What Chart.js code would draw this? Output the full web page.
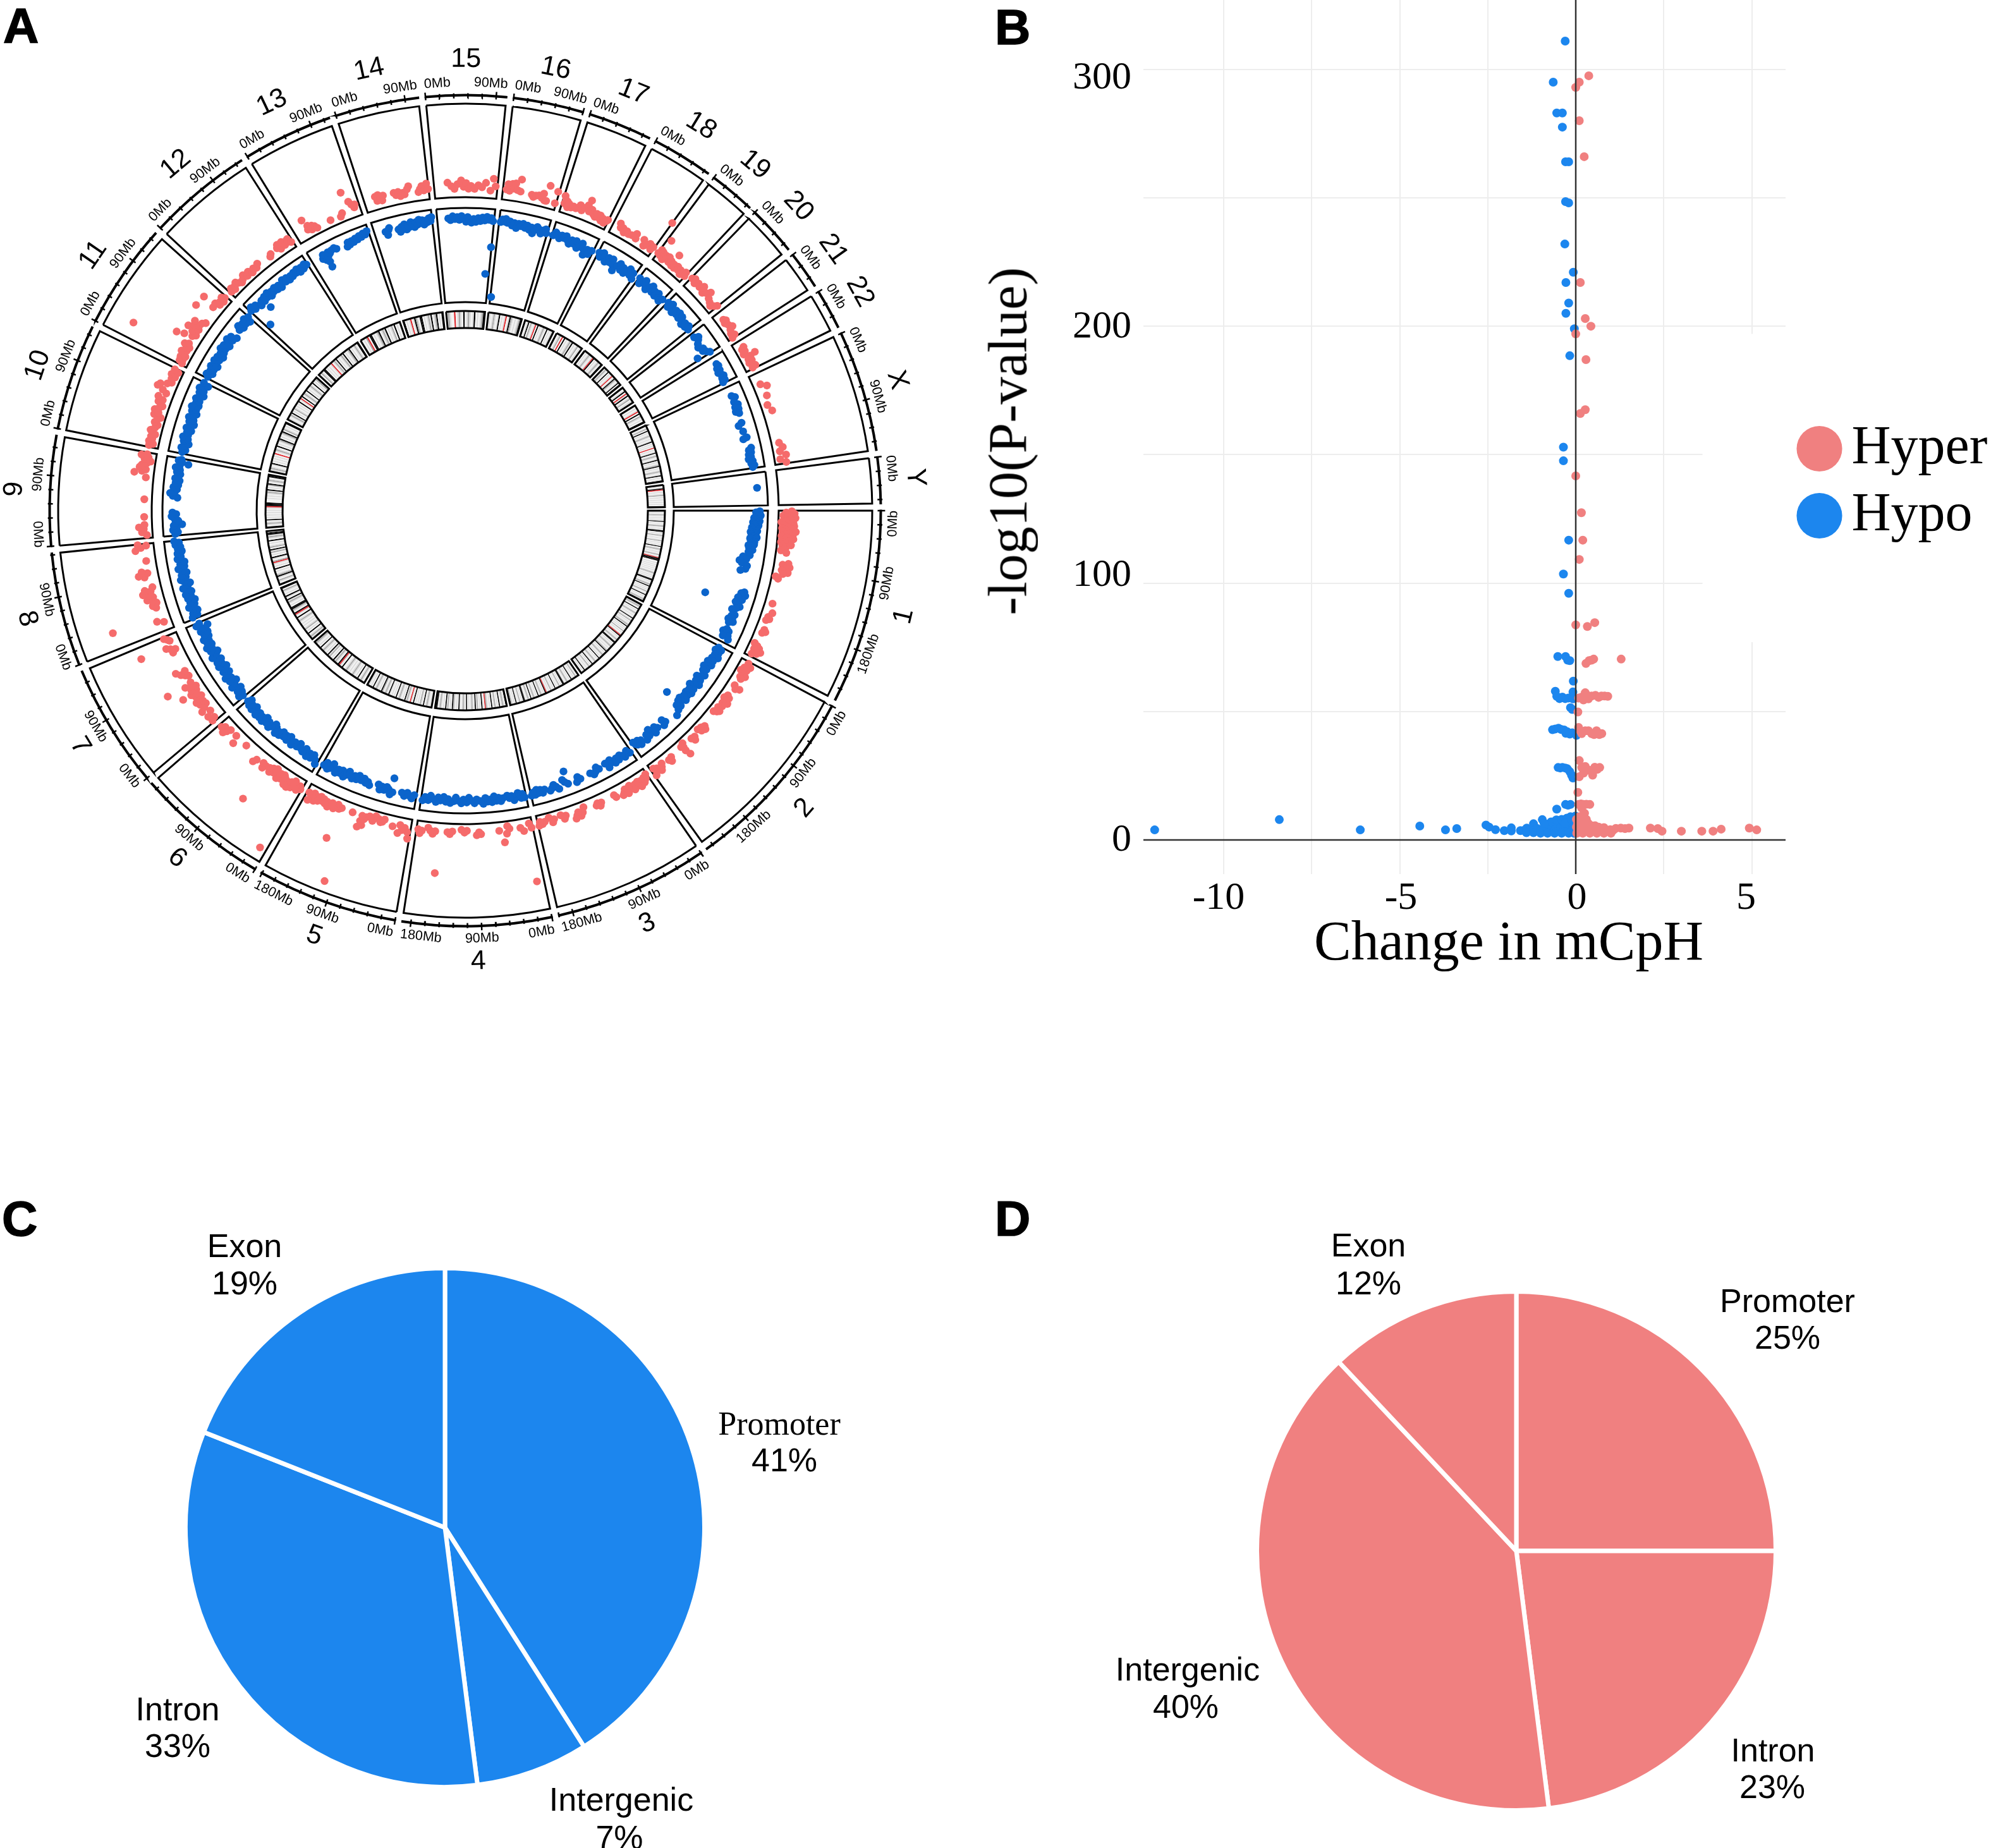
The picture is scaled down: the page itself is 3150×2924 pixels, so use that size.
<!DOCTYPE html>
<html>
<head>
<meta charset="utf-8">
<script src="https://cdn.jsdelivr.net/npm/chart.js@4"></script>
<style>
  html, body { margin: 0; padding: 0; background: #fff; }
  #page { position: relative; width: 3150px; height: 2924px; overflow: hidden; background: #fff; }
  canvas { position: absolute; }
  .txt { position: absolute; white-space: nowrap; color: #000; transform: translate(-50%, -50%); line-height: 1; text-align: center; }
  .letter { position: absolute; font: bold 78px "Liberation Sans"; line-height: 1; color: #000; -webkit-text-stroke: 1.5px #000; }
</style>
</head>
<body>
<div id="page">
  <canvas id="bandsChart" width="1480" height="1480" style="left:-4px;top:68px"></canvas>
  <canvas id="sectorChart" width="1480" height="1480" style="left:-4px;top:68px"></canvas>
  <canvas id="dotChart" width="1480" height="1480" style="left:-4px;top:68px"></canvas>
  <canvas id="volcanoChart" width="1590" height="1560" style="left:1560px;top:0"></canvas>
  <canvas id="pieC" width="830" height="830" style="left:289px;top:2002px"></canvas>
  <canvas id="pieD" width="830" height="830" style="left:1984px;top:2039px"></canvas>
</div>
<script>
// chromosomes, Mb
const chromNames = ['1','2','3','4','5','6','7','8','9','10','11','12','13','14','15','16','17','18','19','20','21','22','X','Y'];
const chromLengths = [249,243,198,191,181,171,159,146,141,136,135,134,115,107,103,90,81,78,59,63,48,51,155,59];
const gapMb = 9.2;
const tickStepMb = 18;
const labelStepMb = 90;

// hyper / hypo dots per chromosome: position Mb, track value 0-100 (flat pairs)
const hyperByChrom = [
  [1,17,3,11,5,20,6,13,8,8,9,17,11,12,12,21,14,9,15,16,17,11,19,6,20,19,22,13,24,9,25,20,27,14,29,7,30,18,32,11,34,22,35,8,37,15,39,11,41,19,42,7,44,13,46,20,48,10,50,15,52,7,54,12,56,18,58,9,60,13,63,11,66,8,69,14,86,18,89,12,92,20,95,15,98,12,101,19,104,14,110,7,113,10,155,11,170,14,178,11,181,13,184,10,200,12,203,14,206,11,226,8,229,12,232,15,235,10,237,18,239,12,241,15,244,10],
  [3,12,8,16,12,10,15,14,18,8,22,12,25,16,28,11,31,13,45,11,47,18,50,14,65,11,68,14,71,9,74,12,77,16,80,11,85,13,90,10,94,14,97,12,100,9,128,12,131,15,134,10,137,13,140,9,152,12,155,15,158,11,174,8,177,12,178,16,180,10,176,22,203,11,206,15,209,12,222,10,225,13,228,16,233,11,236,14,238,9,240,17],
  [2,9,5,13,8,11,10,16,13,12,15,14,17,18,20,11,23,15,26,12,29,17,32,14,35,10,38,13,41,17,44,11,47,14,50,16,62,14,64,11,88,12,91,15,94,11,97,13,118,9,122,14,126,17,129,12,132,15,135,18,150,11,153,14,158,9,170,11,173,14,178,8,186,11,190,13,194,10,196,14],
  [2,14,5,9,10,72,15,16,20,12,38,11,41,8,43,16,48,25,55,12,85,14,88,12,92,15,108,10,112,12,117,9,132,11,136,14,140,12,155,57,160,12,164,15,168,12,172,9,182,13,185,16,188,12],
  [3,24,5,17,10,13,14,16,18,11,20,20,30,14,45,9,48,12,51,13,55,10,60,8,64,14,70,10,75,12,78,15,82,12,79,22,85,25,83,18,99,12,122,48,102,92,118,12,122,14,125,10,128,13,131,16,135,11,138,13,141,17,144,12,147,15,150,11,153,14,156,10,159,16,162,12,165,18,168,10,171,14,174,20,177,12],
  [2,14,5,11,8,17,12,13,15,9,18,18,20,12,24,20,27,14,30,19,33,12,36,10,39,16,42,11,45,18,48,13,51,9,54,15,57,11,60,17,63,13,67,57,70,14,73,18,76,13,88,15,91,19,116,11,134,19,139,11,9,90,152,11,155,15,158,19,162,13,166,16],
  [3,19,6,15,12,20,18,14,24,22,28,17,32,13,35,19,38,14,41,21,44,16,47,12,50,18,53,15,56,21,59,13,62,18,65,11,68,16,71,22,74,14,74,43,57,31,142,49,85,12,88,15,92,19,95,13,98,23,130,15,134,11,137,16,140,20,150,13,153,15,156,18],
  [14,11,18,18,24,67,40,14,44,17,48,12,52,16,55,21,58,14,62,19,65,24,68,15,71,21,74,12,92,18,95,24,98,14,101,20,118,13,136,23,140,17,143,11,145,20],
  [5,9,10,14,15,12,18,17,22,11,35,11,64,11,100,11,107,24,110,16,113,12,116,19,120,17,123,12,127,8,130,15,133,11,136,19,138,13],
  [3,13,6,9,10,14,14,11,18,13,22,9,28,15,33,11,38,9,42,13,47,11,51,8,54,16,58,12,62,17,66,13,70,10,76,16,80,12,84,18,92,11,96,16,100,23,104,21,108,14,112,10,118,12,122,9,125,14,128,11,131,8,134,13],
  [3,9,6,13,9,10,12,14,15,9,18,12,22,76,21,16,25,11,28,13,31,10,34,17,37,13,43,31,47,23,50,14,54,11,57,17,61,24,64,12,67,19,70,14,73,21,76,13,80,10,94,30,112,29,108,14,115,15,118,10,122,12,126,9,129,14,132,11],
  [3,10,6,13,10,9,14,12,18,14,22,11,26,9,31,11,35,14,40,10,45,13,50,9,55,12,60,10,65,13,89,10,92,12,106,13,109,16,111,10,114,13,117,16,120,11,123,14,126,12,128,15,131,10],
  [20,24,22,12,24,16,28,10,30,14,34,12,37,9,62,10,80,9,84,12,94,33,100,21,103,17,106,13,108,16],
  [19,17,21,12,24,18,27,14,29,11,32,16,50,16,53,13,57,16,60,11,64,14,67,12,72,17,75,20,90,12,93,15,96,18,99,13,102,16,104,20,106,14],
  [22,19,28,15,33,12,38,17,44,21,48,14,52,18,56,12,60,15,66,12,72,16,78,14,84,19,92,11,96,24,100,16],
  [6,14,8,20,11,13,15,21,18,16,20,22,24,15,28,27,29,14,48,13,51,11,55,13,60,14,65,12,67,17,70,10,73,10,74,27,88,23,88,10],
  [2,21,4,13,5,17,8,16,10,10,12,14,16,11,20,13,24,12,28,14,30,17,34,12,38,16,42,20,44,26,46,14,50,17,54,13,58,11,60,15,63,12,66,15,69,10,72,13,75,9,78,12,80,14],
  [11,17,14,13,18,14,22,10,26,13,30,11,36,12,42,16,44,11,57,15,61,9,66,12,69,15,72,13,74,10,76,14,78,47],
  [1,12,3,17,5,11,7,16,10,13,12,9,14,15,17,12,20,16,23,11,26,14,30,24,6,31,30,10,33,13,36,10,40,14,43,11,47,13,50,9,53,12,56,15,58,11],
  [2,15,6,17,10,13,15,16,20,14,25,18,30,12,35,15,39,19,44,13,50,11,55,9,59,12,62,15],
  [14,11,17,13,20,10,25,12,31,15,34,11,40,9,44,12,47,8],
  [12,13,15,10,19,12,23,9,28,21,30,15,34,11,37,14,40,10,44,12,47,15,49,11],
  [19,11,25,17,40,13,55,10,66,13,120,11,128,14,134,10,141,16,147,9,153,15],
  []
];
const hypoByChrom = [
  [1,94,3,90,5,94,7,91,9,95,11,92,13,88,15,93,17,90,19,94,21,87,23,92,25,89,27,93,29,90,31,86,33,91,35,88,37,92,39,85,41,90,43,86,45,91,47,88,49,92,51,85,53,89,55,86,57,90,59,87,62,90,64,84,66,88,68,85,72,89,76,85,82,87,86,80,90,84,94,77,98,80,102,86,108,85,112,80,150,90,153,87,156,92,159,89,162,85,165,90,173,50,168,88,171,84,174,86,178,90,182,87,186,83,195,88,198,85,202,87,205,83,208,89,211,85,224,86,227,89,229,83,232,87,235,90,238,85,241,92],
  [3,87,6,91,9,85,13,90,17,87,21,92,25,86,30,89,34,84,38,90,42,87,45,83,49,88,53,85,60,90,64,87,68,83,72,89,76,85,80,91,84,87,88,82,92,89,96,85,100,90,104,84,108,88,112,85,116,90,120,83,123,87,126,84,128,69,130,90,134,86,138,91,147,94,170,90,173,86,176,92,188,89,192,86,196,92,200,87,204,84,208,90,212,87,216,92,226,88,229,92,232,86,235,90,238,88,240,85],
  [3,92,7,88,11,91,14,93,18,90,22,88,26,92,30,89,34,93,38,90,42,87,45,91,48,94,52,88,66,90,70,87,74,91,78,93,84,90,104,91,108,88,112,93,128,77,128,91,133,88,136,85,146,93,150,90,154,87,158,90,162,92,172,89,176,92,180,88,184,91,187,87,190,92,194,89,197,92],
  [3,92,6,88,9,92,14,86,18,90,22,93,26,88,30,90,34,87,42,89,46,92,50,88,54,91,58,86,62,92,66,89,70,91,74,87,78,93,83,90,90,88,94,92,100,89,104,86,108,91,114,88,118,92,125,89,128,86,132,90,138,92,142,88,146,91,150,86,156,90,160,87,164,92,170,89,174,86,178,91,184,88,188,92],
  [4,88,8,92,12,90,17,87,22,91,27,88,44,90,47,75,48,93,52,88,56,86,60,90,65,87,68,91,72,86,88,90,92,87,96,89,100,85,105,88,110,84,114,89,118,86,122,90,125,88,130,84,134,89,138,92,142,86,146,90,150,87,154,92,158,88,162,84,166,90,170,92,174,86,178,90],
  [3,94,7,90,12,86,16,91,20,87,24,92,30,85,34,90,40,88,44,84,48,89,54,86,58,91,62,87,66,84,70,90,74,86,78,89,82,85,86,91,90,88,94,92,98,86,102,84,106,89,110,92,114,87,118,90,122,85,126,92,130,88,134,91,138,87,142,92,146,89,150,85,154,91,158,87,162,90,166,84,169,88],
  [3,88,6,92,10,86,14,90,18,84,22,89,26,92,30,87,34,83,38,90,42,86,46,92,50,88,54,84,58,90,62,87,66,83,70,91,74,86,78,90,82,84,86,88,90,92,94,86,98,83,102,90,106,87,110,92,114,85,118,89,122,86,126,91,130,84,134,88,138,83,142,90,146,86,150,80,154,92,157,88],
  [3,92,6,86,10,90,14,84,18,88,22,92,26,85,30,89,34,83,38,90,42,86,46,91,50,84,54,88,58,92,62,86,66,83,70,89,74,92,78,86,82,90,86,84,90,88,94,92,98,85,102,89,106,84,112,91,116,87,122,90,126,85,130,89,134,86,138,91,142,87,145,92],
  [3,90,6,87,10,92,14,88,18,91,20,82,23,89,27,86,31,90,35,93,39,88,42,92,69,87,72,92,77,95,80,90,84,88,88,92,92,87,96,90,100,86,104,91,108,88,112,86,116,90,120,87,124,92,128,88,132,79,134,86,137,90,139,87],
  [3,88,7,85,11,90,15,87,19,83,23,89,27,85,31,91,35,86,40,88,44,84,48,90,52,86,56,83,60,89,64,85,68,91,72,87,76,84,80,90,84,86,88,92,92,85,96,89,100,86,104,91,108,87,112,84,116,90,120,86,124,92,128,88,132,84,135,90],
  [3,89,7,92,11,86,15,90,19,87,23,92,27,85,31,89,35,92,39,87,43,91,47,85,51,90,55,87,59,93,63,88,67,92,71,86,75,90,79,93,83,87,87,91,91,85,106,88,110,92,114,86,118,90,122,87,126,92,130,85,134,90],
  [2,92,6,95,8,67,10,90,14,93,22,88,24,90,28,92,32,89,32,80,36,93,40,90,44,94,48,88,52,92,56,90,60,93,64,89,68,92,72,88,76,91,80,94,84,90,88,93,92,89,96,92,100,90,104,93,108,91,112,94,116,89,120,93,124,90,128,94,132,92],
  [20,88,23,92,25,85,27,90,29,82,31,88,33,92,28,76,36,90,40,92,46,93,50,91,70,88,73,92,76,89,80,92,84,90,88,93,92,91,96,94,100,92,104,95,108,93,112,96],
  [20,89,23,85,26,90,28,92,44,88,47,85,50,90,53,87,56,92,59,86,62,90,65,88,68,93,71,90,74,87,77,92,80,89,83,94,86,90,89,93,92,88,95,92,98,90,101,94,104,91,106,95],
  [20,92,24,90,28,94,32,91,36,93,40,90,44,94,48,91,52,88,55,93,58,90,62,87,66,91,70,88,74,92,78,89,82,93,86,90,90,94,94,91,95,33,98,93,101,90,102,62],
  [2,9,3,90,6,93,9,91,12,94,15,90,20,92,24,88,28,91,32,86,36,91,40,89,44,92,48,88,52,91,56,87,60,90,63,84,66,88,70,92,74,90,78,86,82,90,86,92,88,88],
  [2,88,6,92,10,90,14,87,18,91,22,89,26,92,30,88,34,85,38,90,42,87,46,91,50,84,54,88,58,91,62,86,66,80,70,87,74,83,78,88],
  [2,90,6,86,10,92,14,88,18,84,22,90,26,86,30,91,34,85,38,80,42,87,46,91,50,85,54,89,58,84,62,88,66,92,70,86,74,90,77,84],
  [2,90,6,85,10,89,14,92,18,87,22,84,26,89,30,92,34,86,38,89,42,85,46,90,50,86,54,84,58,88],
  [2,90,6,86,10,92,14,88,18,85,22,90,26,87,30,91,34,86,38,90,42,87,46,84,50,88,54,85,58,89,62,86],
  [8,86,12,90,16,88,22,85,28,83,34,87,38,85,42,88,44,76,46,91],
  [14,90,18,91,22,88,26,90,30,87,34,89,38,91,42,88,46,90,49,87],
  [18,89,22,92,30,89,36,92,40,88,44,91,48,87,52,90,70,89,74,85,86,88,98,90,100,86,118,92,122,89,126,91,130,88,134,90,138,87,142,91,146,89,150,92,153,90],
  [27,92]
];

// ideogram stain per chromosome, one letter per equal band: w white, l light, m mid, d dark, k black, r centromere
const ideogram = [
  'lwlwmlwlwlwkwlwlmlwlwkkwlwmlwlwlmwlwlwkwlmlwlwlmwl'+'r'+'kkkwwlwlwlwlwlwlmlwlwlwkkwlwlmlkwlwlwmlwlkwlwlmlk',
  'wlmlwkwlwlmlwlwlkwlmwlwlmlkwlwlwmwlwl'+'r'+'kwlwlmlwkkwlwlmlwlwlmkwlwlmlwlwkwlwlmlwlkwlwmlwlwlkwlwm',
  'lwlmwlwlkwlwlmlwlkkwlwmlwlwkwlwlmwlwl'+'r'+'kwlwlmlwkwlwlmlwkwlmlwlkkwlwmlwlkwlwlmk',
  'kwlmlwkwlwmlwkwlwlm'+'r'+'wlkwlwmlkwlmlwlwkwlmlwlkwlwlmkwlwmlkwlwlmlwkk',
  'wlwlmlwkwlmwlwlwkwl'+'r'+'wlmlkwlwlmlwkwlwlwlkwlmlwmkwlwlmlwkwlwlm',
  'lwlmlwkwlwlmlwlwlmlwwkwl'+'r'+'kwlmlkwlwmlkwlwlmlwkwlwlmw',
  'wlmlwkwlwmlwlwlwlmlwkwl'+'r'+'kwlmkkwlwlmlkwlkwlwlmwk',
  'lwlmwlkmlwlwkwlwl'+'r'+'mwlkwlwmlkwmlwlwkwlmlkkw',
  'lwlmlwkwlwlwlwlwl'+'r'+'kkkwwwlwlwlmlkwlwmkwlmlwkk',
  'wlmlwlkwlwlwlw'+'r'+'wlmlwkwlwlmkwlwlmkwmlwlwk',
  'wlwlmlkwlwmlwlwlwkwl'+'r'+'wkwlmlwkwlwlmlwkwlwml',
  'lwmlwkkwlwlwl'+'r'+'wlmlkwlwlmlkwlwlmkwlwlmlwk',
  'lwlwm'+'r'+'wkkwlwlmkwlmlkwlwlmwkwlwl',
  'kwlwl'+'r'+'wlkmlwkkwlwlmlkwlmkwlwk',
  'lmlww'+'r'+'wlmlwkwlmlwlkwlwlmk',
  'wlwlmlwlkwlwl'+'r'+'wlkmlwlwlmk',
  'lwlkwmlwl'+'r'+'wkwlwlmlwkwlwlm',
  'lwlmw'+'r'+'wkwlwlmlkwlwlmwlw',
  'kwlwlmlwl'+'r'+'kwlwlmlwk',
  'wlmlwkwlwl'+'r'+'wlkmlwlkwk',
  'lwlkw'+'r'+'lkwlmwlw',
  'mwlwl'+'r'+'wkwmlwlwk',
  'lwlmwkwlwlmlwlwlkwlwlw'+'r'+'wlwlkwlmlwlkwlwlmkwlwlmlwlkwlwlk',
  'mwlk'+'r'+'wlwlmwlwlwlwlwk'
];
const stainColors = { w:'#f2f2f2', l:'#dcdcdc', m:'#a8a8a8', d:'#555555', k:'#000000', r:'#e0282e' };

// panel B: change in mCpH, -log10(P)
const volcanoHyper = [
  [.37,297.5],[.1,295],[0,293],[.1,280],[.24,266],[.13,217],[.27,203],[.43,200],[0,197],[.29,187],[.27,167.5],[.13,166],
  [0,141.7],[.16,127.4],[.2,116.7],[.1,109.2],[0,83.7],[.33,83.1],[.54,84.6],
  [.29,68.7],[.38,69.8],[.51,70.4],[.45,70],[1.29,70.4],
  [.27,57.3],[.17,55.6],[.36,54.9],[.45,56],[.56,56.3],[.65,55.5],[.73,56],[.82,56],[.91,55.9],[.08,55.2],[.22,54.5],[.06,49.8],
  [.08,43.8],[.17,41.4],[.27,42.5],[.36,42.5],[.45,41.4],[.59,42.5],[.67,41],[.74,41.4],[.13,42.5],[.52,41],
  [.1,30.9],[.17,28.2],[.27,28.6],[.36,27.2],[.48,25.2],[.54,28.3],[.61,27.5],[.68,28.2],[.1,24.6],[.42,27],[.22,26],
  [.06,18.5],[.08,13.8],[.15,14],[.22,13.8],[.3,13.9],[.4,13.8],[.17,12.4],[.25,10.4],[.25,8.4],
  [.05,6],[.1,7.5],[.15,6],[.2,7],[.25,6.5],[.3,5.5],[.05,3.5],[.12,3.5],[.2,3.5],[.28,3.5],[.35,4],[.42,3.5],[.5,4.5],[.58,3.5],[.66,4],[.74,3.5],[.82,4.2],[.9,3.5],[.98,4],[1.06,3.7],[1.14,4.5],[1.28,4.6],[1.4,4.4],[1.51,4.6],
  [.03,2.6],[.2,2.6],[.4,2.6],[.6,2.6],[.8,2.6],[1,2.6],[.1,9],[.2,9.5],[.3,8],[.35,6.5],[.45,5.5],[.55,5.5],[.65,5],[.8,4.8],[.02,8],[.02,5],[.1,5],[.2,5],[.3,4],
  [2.12,4.6],[2.33,4.4],[2.45,3.4],[3,3.4],[3.58,3.4],[3.9,3.4],[4.13,4.2],[4.93,4.6],[5.14,3.9]
];
const volcanoHypo = [
  [-.3,311],[-.64,295],[-.54,283],[-.38,283],[-.38,277.5],[-.29,264],[-.2,264],[-.29,248.5],[-.2,248],[-.31,232],[-.07,221],[-.28,217],[-.2,209],[-.28,205],[-.04,199],[-.17,188.5],
  [-.35,152.9],[-.35,147.6],[-.2,116.7],[-.35,103.5],[-.2,96],
  [-.51,71.4],[-.29,71.4],[-.23,70],[-.17,69.8],[-.07,61.8],[-.58,57.9],[-.54,55.9],[-.46,55],[-.38,55.6],[-.3,55],[-.21,55.2],[-.08,57.6],[-.08,54.9],[-.15,51.5],[-.1,50.8],
  [-.66,42.9],[-.58,43.2],[-.49,43.5],[-.41,43],[-.33,42.8],[-.28,41.5],[-.24,42.1],[-.17,41.2],[-.1,41.7],[.02,40.7],
  [-.5,28.2],[-.44,28],[-.38,28.2],[-.3,28],[-.24,27.7],[-.17,26.6],[-.12,25.2],[-.08,24.1],
  [-.54,12],[-.29,13.8],[-.22,13.5],[-.15,13.8],[-.01,9.3],
  [-11.96,3.9],[-8.42,7.9],[-6.12,3.9],[-4.43,5.4],[-3.7,3.9],[-3.38,4.4],[-2.55,5.8],[-2.46,5],[-2.28,4],[-2.03,3.6],[-1.83,4.7],[-1.83,3.5],[-1.57,3.6],[-1.47,3.7],[-1.39,4.6],[-1.3,3.7],[-1.2,6.3],[-1.2,3.7],[-1.1,4.5],[-1,3.7],[-.95,7.9],[-.9,5],[-.85,3.7],[-.8,6],[-.72,3.7],[-.7,5.5],[-.64,7],[-.6,3.7],[-.55,5],[-.5,3.6],[-.45,7],[-.42,5],[-.36,3.6],[-.33,6.5],[-.28,4.8],[-.22,3.6],[-.2,7.5],[-.15,5.5],[-.1,3.6],[-.08,7],[-.04,5],
  [-1.4,2.8],[-1.2,2.8],[-1,2.6],[-.8,2.6],[-.6,2.6],[-.4,2.6],[-.2,2.6],[-.05,2.6],[-.7,7],[-.55,7.8],[-.4,8],[-.25,8.5],[-.15,9],[-.9,6.5],[-.3,6.5],[-.12,7.8],[-.02,6]
];
const volcanoSeries = ['Hyper', 'Hypo'];

// panels C and D
const regionsC = ['Promoter','Intergenic','Intron','Exon'];
const percentC = [41,7,33,19];
const regionsD = ['Promoter','Intron','Intergenic','Exon'];
const percentD = [25,23,40,12];

const colHyper = '#f08080';
const colHypo = '#1c86ee';
const dotRed = '#f56b6b';
const dotBlue = '#0b64cb';
const ink = '#000';

// ring radii of panel A, outer to inner
const rAxis = 658, rTrack1 = [644, 496], rTrack2 = [479, 330], rIdeo = [316, 289];

const page = document.getElementById('page');
function addText(text, x, y, font, extra) {
  const d = document.createElement('div');
  d.className = 'txt';
  d.textContent = text;
  d.style.left = x + 'px';
  d.style.top = y + 'px';
  d.style.font = font;
  d.style.lineHeight = '1';
  if (extra) d.style.transform = extra;
  page.appendChild(d);
}
[['A',5,2],['B',1574,4],['C',3,1889],['D',1574,1889]].forEach(l => {
  const d = document.createElement('div');
  d.className = 'letter';
  d.textContent = l[0];
  d.style.left = l[1] + 'px';
  d.style.top = l[2] + 'px';
  page.appendChild(d);
});

// ---------- panel A ----------
const totalMb = chromLengths.reduce((a, b) => a + b, 0) + gapMb * chromLengths.length;
const degPerMb = 360 / totalMb;
const chromStart = [];
let cum = 0;
chromLengths.forEach(len => { chromStart.push(cum); cum += len + gapMb; });
const toAngle = (i, mb) => (chromStart[i] + mb) * degPerMb;
const polar = (deg, r) => {
  const a = deg * Math.PI / 180;
  return { x: r * Math.cos(a), y: r * Math.sin(a) };
};

// chromosome slices with a transparent gap after each
const sectorData = [];
chromLengths.forEach(len => { sectorData.push(len, gapMb); });
const sectorBorders = (w) => sectorData.map((v, i) => i % 2 ? 0 : w);
const sectorEdges = sectorData.map((v, i) => i % 2 ? 'rgba(0,0,0,0)' : ink);
const clear = sectorData.map(() => 'rgba(0,0,0,0)');

function ring(weight, outlined) {
  return {
    data: sectorData, weight: weight,
    backgroundColor: clear,
    borderColor: outlined ? sectorEdges : clear,
    borderWidth: outlined ? sectorBorders(3) : 0,
    borderJoinStyle: 'miter'
  };
}
new Chart(document.getElementById('sectorChart'), {
  type: 'doughnut',
  data: {
    labels: sectorData.map((v, i) => i % 2 ? '' : chromNames[i / 2]),
    datasets: [
      ring(1, true),
      ring(rAxis - 1 - rTrack1[0], false),
      ring(rTrack1[0] - rTrack1[1], true),
      ring(rTrack1[1] - rTrack2[0], false),
      ring(rTrack2[0] - rTrack2[1], true),
      ring(rTrack2[1] - rIdeo[0], false),
      ring(rIdeo[0] - rIdeo[1], true)
    ]
  },
  options: {
    responsive: false, animation: false, events: [],
    rotation: 90, radius: rAxis, cutout: (rIdeo[1] / rAxis * 100) + '%',
    plugins: { legend: { display: false }, tooltip: { enabled: false } }
  }
});

const bandData = [], bandColors = [];
ideogram.forEach((bands, i) => {
  const w = chromLengths[i] / bands.length;
  for (const c of bands) { bandData.push(w); bandColors.push(stainColors[c]); }
  bandData.push(gapMb);
  bandColors.push('rgba(0,0,0,0)');
});
new Chart(document.getElementById('bandsChart'), {
  type: 'doughnut',
  data: { labels: bandData.map(() => ''), datasets: [{ data: bandData, backgroundColor: bandColors, borderWidth: 0 }] },
  options: {
    responsive: false, animation: false, events: [],
    rotation: 90, radius: rIdeo[0], cutout: (rIdeo[1] / rIdeo[0] * 100) + '%',
    plugins: { legend: { display: false }, tooltip: { enabled: false } }
  }
});

function dots(byChrom, track) {
  const out = [];
  byChrom.forEach((flat, i) => {
    for (let k = 0; k < flat.length; k += 2) {
      const r = track[1] + (track[0] - track[1]) * flat[k + 1] / 100;
      out.push(polar(toAngle(i, flat[k]), r));
    }
  });
  return out;
}
// tick marks along the outer axis, NaN breaks the line
const tickPoints = [];
chromLengths.forEach((len, i) => {
  for (let mb = 0; mb <= len; mb += tickStepMb) {
    const deg = toAngle(i, mb);
    tickPoints.push(polar(deg, rAxis), polar(deg, rAxis + (mb % labelStepMb === 0 ? 12 : 8)), { x: NaN, y: NaN });
  }
});

const circosLabels = {
  id: 'circosLabels',
  afterDraw(chart) {
    const { ctx, scales } = chart;
    const put = (text, deg, r, font) => {
      const p = polar(deg, r);
      ctx.save();
      ctx.translate(scales.x.getPixelForValue(p.x), scales.y.getPixelForValue(p.y));
      const d = ((deg % 360) + 360) % 360;
      ctx.rotate((d < 180 ? d - 90 : d + 90) * Math.PI / 180);
      ctx.font = font;
      ctx.fillStyle = ink;
      ctx.textAlign = 'center';
      ctx.textBaseline = 'middle';
      ctx.fillText(text, 0, 0);
      ctx.restore();
    };
    const mbFont = '21.5px "Liberation Sans"';
    chromLengths.forEach((len, i) => {
      const a0 = toAngle(i, 0), a1 = toAngle(i, len);
      ctx.font = mbFont;
      for (let mb = 0; mb <= len; mb += labelStepMb) {
        const text = mb + 'Mb';
        const half = ctx.measureText(text).width / 2 / 683 * 180 / Math.PI;
        const deg = Math.max(a0 + half, Math.min(a1 - half, toAngle(i, mb)));
        put(text, deg, 683, mbFont);
      }
      put(chromNames[i], toAngle(i, len / 2), 720, '43px "Liberation Sans"');
    });
  }
};
new Chart(document.getElementById('dotChart'), {
  type: 'scatter',
  data: {
    datasets: [
      { label: 'ticks', data: tickPoints, showLine: true, pointRadius: 0, borderColor: ink, borderWidth: 2.5, spanGaps: false },
      { label: 'Hyper', data: dots(hyperByChrom, rTrack1), pointRadius: 6.2, backgroundColor: dotRed, borderWidth: 0 },
      { label: 'Hypo', data: dots(hypoByChrom, rTrack2), pointRadius: 6.2, backgroundColor: dotBlue, borderWidth: 0 }
    ]
  },
  options: {
    responsive: false, animation: false, events: [],
    layout: { padding: 0 },
    scales: {
      x: { display: false, min: -740, max: 740 },
      y: { display: false, min: -740, max: 740, reverse: true }
    },
    plugins: { legend: { display: false }, tooltip: { enabled: false } }
  },
  plugins: [circosLabels]
});

// ---------- panel B ----------
const serif = '"Liberation Serif"';
// the original tick labels sit a little off their ticks, px
const yLabelNudge = { '300': 14, '200': 2, '100': -12, '0': 1 };
const xLabelNudge = { '-10': -8, '-5': 2, '0': 2, '5': -9 };
const volcanoExtras = {
  id: 'volcanoExtras',
  afterLayout(chart) {
    // legend sits right of the plot, no clip so the big dots stay whole
    const l = chart.legend;
    l.left = 1290.5; l.right = 1590; l.top = 647; l.bottom = 1100;
    l.draw = function () { this._draw(); };
    chart.scales.y.getLabelItems(chart.chartArea).forEach(it => { it.options.translation[1] += yLabelNudge[it.label] || 0; });
    chart.scales.x.getLabelItems(chart.chartArea).forEach(it => { it.options.translation[0] += xLabelNudge[it.label] || 0; });
  },
  beforeDatasetsDraw(chart) {
    // white patch behind the legend cuts the grid
    const { ctx, scales: { x, y } } = chart;
    const right = chart.chartArea.right;
    ctx.save();
    ctx.fillStyle = '#fff';
    ctx.fillRect(x.getPixelForValue(3.6), y.getPixelForValue(197), right - x.getPixelForValue(3.6) + 2, y.getPixelForValue(77) - y.getPixelForValue(197));
    ctx.restore();
  },
  afterDatasetsDraw(chart) {
    // zero lines on top of the dots
    const { ctx, chartArea: a, scales: { x, y } } = chart;
    ctx.save();
    ctx.strokeStyle = '#333';
    ctx.lineWidth = 2.5;
    ctx.beginPath();
    ctx.moveTo(x.getPixelForValue(0), a.top);
    ctx.lineTo(x.getPixelForValue(0), a.bottom);
    ctx.moveTo(a.left, y.getPixelForValue(0));
    ctx.lineTo(a.right, y.getPixelForValue(0));
    ctx.stroke();
    ctx.restore();
  }
};
new Chart(document.getElementById('volcanoChart'), {
  type: 'scatter',
  data: {
    datasets: [
      { label: volcanoSeries[0], data: volcanoHyper.map(p => ({ x: p[0], y: p[1] })), backgroundColor: colHyper, borderWidth: 0, pointRadius: 7, pointStyle: 'circle' },
      { label: volcanoSeries[1], data: volcanoHypo.map(p => ({ x: p[0], y: p[1] })), backgroundColor: colHypo, borderWidth: 0, pointRadius: 7, pointStyle: 'circle' }
    ]
  },
  options: {
    responsive: false, animation: false, events: [],
    layout: { autoPadding: false, padding: { right: 325, top: 0, left: 0, bottom: 0 } },
    scales: {
      x: {
        type: 'linear', min: -12.28, max: 5.96,
        afterFit: s => { s.height = 177; s.paddingLeft = 0; s.paddingRight = 0; },
        border: { display: false },
        grid: { color: '#ededed', lineWidth: 2, drawTicks: false },
        ticks: {
          stepSize: 2.5, includeBounds: false, padding: 2, maxRotation: 0, autoSkip: false,
          font: { family: 'Liberation Serif', size: 62 }, color: ink,
          callback: v => (v % 5 === 0 ? String(v) : '')
        }
      },
      y: {
        type: 'linear', min: -13.3, max: 327,
        afterFit: s => { s.width = 249; s.paddingTop = 0; s.paddingBottom = 0; },
        border: { display: false },
        grid: { color: '#ededed', lineWidth: 2, drawTicks: false },
        ticks: {
          stepSize: 50, includeBounds: false, padding: 19, autoSkip: false,
          font: { family: 'Liberation Serif', size: 62 }, color: ink,
          callback: v => (v % 100 === 0 ? String(v) : '')
        }
      }
    },
    plugins: {
      tooltip: { enabled: false },
      legend: {
        display: true, position: 'chartArea', align: 'start',
        labels: {
          usePointStyle: true, boxWidth: 16, boxHeight: 51, padding: 20, color: ink,
          font: { family: 'Liberation Serif', size: 86 }
        }
      }
    }
  },
  plugins: [volcanoExtras]
});
addText('Change in mCpH', 2387, 1489, '88px ' + serif);
addText('-log10(P-value)', 1594, 698, '87px ' + serif, 'translate(-50%,-50%) rotate(-90deg)');

// ---------- panels C, D ----------
function pie(id, categories, values, color) {
  new Chart(document.getElementById(id), {
    type: 'pie',
    data: {
      labels: categories,
      datasets: [{ data: values, backgroundColor: color, borderColor: '#fff', borderWidth: 7, borderJoinStyle: 'miter' }]
    },
    options: {
      responsive: false, animation: false, events: [],
      radius: 410.5,
      plugins: { legend: { display: false }, tooltip: { enabled: false } }
    }
  });
}
pie('pieC', regionsC, percentC, colHypo);
pie('pieD', regionsD, percentD, colHyper);

const sans = '52px "Liberation Sans"';
// label centres, one pair of lines per category
const labelSpotsC = { Promoter: [1233,2253,1241,2310], Intergenic: [983,2847,980,2907], Intron: [281,2704,281,2762], Exon: [387,1971,387,2030] };
const labelSpotsD = { Promoter: [2828,2058,2828,2116], Intron: [2805,2769,2804,2827], Intergenic: [1879,2641,1876,2700], Exon: [2165,1970,2165,2030] };
regionsC.forEach((name, i) => {
  const s = labelSpotsC[name];
  addText(name, s[0], s[1], name === 'Promoter' ? '52px ' + serif : sans);
  addText(percentC[i] + '%', s[2], s[3], sans);
});
regionsD.forEach((name, i) => {
  const s = labelSpotsD[name];
  addText(name, s[0], s[1], sans);
  addText(percentD[i] + '%', s[2], s[3], sans);
});
</script>
</body>
</html>
